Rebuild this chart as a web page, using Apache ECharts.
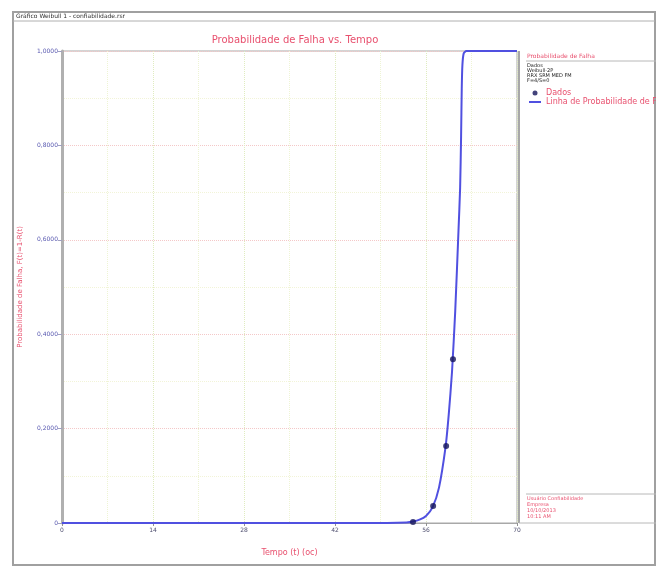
<!DOCTYPE html>
<html>
<head>
<meta charset="utf-8">
<script src="https://cdn.jsdelivr.net/npm/echarts@6/dist/echarts.min.js"></script>
<style>html,body{margin:0;padding:0;background:#fff}#c{width:656px;height:568px}</style>
</head>
<body>
<div id="c"></div>
<script>
// Data
const xTicks = [0, 14, 28, 42, 56, 70];
const yTicks = [0, 0.2, 0.4, 0.6, 0.8, 1.0];
const dataTimes = [54.0, 57.1, 59.1, 60.15];
const dataProb = [0.002, 0.036, 0.163, 0.347];
const lineTimes = [0, 50, 53, 54, 55, 56, 57, 58, 59, 59.5, 60, 60.5, 61, 61.25, 61.4, 61.5, 61.6, 61.8, 62.2, 70];
const lineProb  = [0, 0, 0.001, 0.003, 0.007, 0.015, 0.033, 0.075, 0.16, 0.23, 0.32, 0.45, 0.62, 0.71, 0.82, 0.92, 0.97, 0.995, 1.0, 1.0];
const legendHeader = ['Dados', 'Weibull-2P', 'RRX SRM MED FM', 'F=4/S=0'];
const footerLines = ['Usuário Confiabilidade', 'Empresa', '10/10/2013', '10:11 AM'];

const pink = '#e8506e';
const chart = echarts.init(document.getElementById('c'));
const fmtY = v => v === 0 ? '0' : v.toFixed(4).replace('.', ',');

const graphics = [
  {type:'rect', shape:{x:13, y:12, width:642, height:553}, style:{fill:'none', stroke:'#a0a0a0', lineWidth:2}, silent:true},
  {type:'line', shape:{x1:13, y1:21, x2:655, y2:21}, style:{stroke:'#b0b0b0', lineWidth:1}},
  {type:'text', left:16, top:13, style:{text:'Gráfico Weibull 1 - confiabilidade.rsr', fontSize:6, fill:'#303030', fontFamily:'DejaVu Sans'}},
  {type:'line', shape:{x1:519, y1:51, x2:519, y2:523}, style:{stroke:'#a8a8a8', lineWidth:2}},
  {type:'text', left:527, top:53, style:{text:'Probabilidade de Falha', fontSize:6, fill:pink, fontFamily:'DejaVu Sans'}},
  {type:'line', shape:{x1:526, y1:61, x2:656, y2:61}, style:{stroke:'#b8b8b8', lineWidth:1}},
  {type:'line', shape:{x1:526, y1:494, x2:656, y2:494}, style:{stroke:'#b8b8b8', lineWidth:1}},
  {type:'line', shape:{x1:519, y1:523, x2:656, y2:523}, style:{stroke:'#b8b8b8', lineWidth:1}}
];
legendHeader.forEach((t, i) => graphics.push({type:'text', left:527, top:63 + i*5.2, style:{text:t, fontSize:5, fill:'#202020', fontFamily:'DejaVu Sans'}}));
footerLines.forEach((t, i) => graphics.push({type:'text', left:527, top:496 + i*6, style:{text:t, fontSize:5, fill:pink, fontFamily:'DejaVu Sans'}}));

chart.setOption({
  animation: false,
  backgroundColor: '#fff',
  title: {
    text: 'Probabilidade de Falha vs. Tempo',
    left: 290, textAlign: 'center', top: 30,
    textStyle: {color: pink, fontSize: 10, fontWeight: 'normal', fontFamily: 'DejaVu Sans'}
  },
  grid: {left: 62, right: 139, top: 51, bottom: 45, show: true, borderColor: '#a8a8a8', borderWidth: 1, backgroundColor: '#fff'},
  legend: {
    orient: 'vertical', left: 524, top: 84, itemWidth: 12, itemHeight: 5, itemGap: 1,
    textStyle: {color: pink, fontSize: 8, fontFamily: 'DejaVu Sans'},
    data: [
      {name: 'Dados', icon: 'circle', itemStyle: {color: '#14145a'}},
      {name: 'Linha de Probabilidade de Falha', icon: 'path://M0,4H12V6H0Z', itemStyle: {color: '#5050e0'}}
    ]
  },
  xAxis: {
    type: 'value', min: xTicks[0], max: xTicks[xTicks.length - 1], interval: 14,
    name: 'Tempo (t) (oc)', nameLocation: 'middle', nameGap: 26,
    nameTextStyle: {color: pink, fontSize: 8, fontFamily: 'DejaVu Sans'},
    axisLine: {show: true, onZero: false, lineStyle: {color: '#a8a8a8', width: 1}},
    axisTick: {show: true, length: 3, inside: false, lineStyle: {color: '#909090'}},
    axisLabel: {color: '#505070', fontSize: 6, margin: 4, fontFamily: 'DejaVu Sans'},
    splitLine: {show: true, lineStyle: {color: '#e0ecc0', type: 'dotted', width: 1}},
    minorTick: {show: false, splitNumber: 2},
    minorSplitLine: {show: true, lineStyle: {color: '#eef4d4', type: 'dotted', width: 1}}
  },
  yAxis: {
    type: 'value', min: 0, max: 1, interval: 0.2,
    name: 'Probabilidade de Falha, F(t)=1-R(t)', nameLocation: 'middle', nameGap: 38,
    nameTextStyle: {color: pink, fontSize: 7, fontFamily: 'DejaVu Sans'},
    axisLine: {show: true, lineStyle: {color: '#b0b0b0', width: 3}},
    axisTick: {show: true, length: 4, lineStyle: {color: '#a0a0c0'}},
    axisLabel: {color: '#5858b0', fontSize: 6, margin: 4, formatter: fmtY, fontFamily: 'DejaVu Sans'},
    splitLine: {show: true, lineStyle: {color: '#f4c8c8', type: 'dotted', width: 1}},
    minorTick: {show: false, splitNumber: 2},
    minorSplitLine: {show: true, lineStyle: {color: '#f2f4d8', type: 'dotted', width: 1}}
  },
  series: [
    {
      name: 'Linha de Probabilidade de Falha', type: 'line', showSymbol: false, smooth: 0.2,
      lineStyle: {color: '#5050e0', width: 2}, itemStyle: {color: '#5050e0'},
      data: lineTimes.map((t, i) => [t, lineProb[i]]), z: 3
    },
    {
      name: 'Dados', type: 'scatter', symbol: 'circle', symbolSize: 6,
      itemStyle: {color: '#14145a'},
      data: dataTimes.map((t, i) => [t, dataProb[i]]), z: 4
    }
  ],
  graphic: graphics
});
</script>
</body>
</html>
